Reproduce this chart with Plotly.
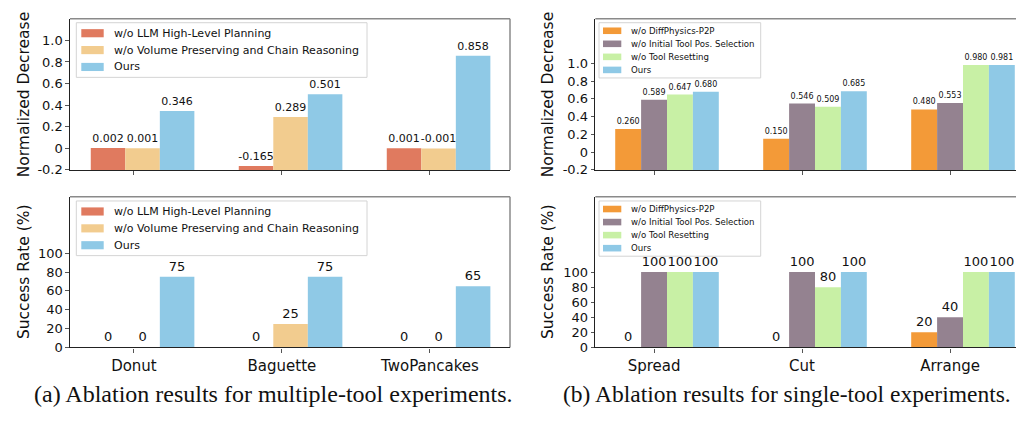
import plotly.graph_objects as go

# ---------------- data ----------------
multi_tasks = ["Donut", "Baguette", "TwoPancakes"]
multi_series = ["w/o LLM High-Level Planning",
                "w/o Volume Preserving and Chain Reasoning",
                "Ours"]
multi_colors = ["#E07A5F", "#F2CC8F", "#8FC9E6"]
multi_decrease_llm = [0.002, -0.165, 0.001]
multi_decrease_volume = [0.001, 0.289, -0.001]
multi_decrease_ours = [0.346, 0.501, 0.858]
multi_success_llm = [0, 0, 0]
multi_success_volume = [0, 25, 0]
multi_success_ours = [75, 75, 65]

single_tasks = ["Spread", "Cut", "Arrange"]
single_series = ["w/o DiffPhysics-P2P",
                 "w/o Initial Tool Pos. Selection",
                 "w/o Tool Resetting",
                 "Ours"]
single_colors = ["#F39A38", "#948290", "#C8F0A5", "#8FC9E6"]
single_decrease_p2p = [0.260, 0.150, 0.480]
single_decrease_init = [0.589, 0.546, 0.553]
single_decrease_reset = [0.647, 0.509, 0.980]
single_decrease_ours = [0.680, 0.685, 0.981]
single_success_p2p = [0, 0, 20]
single_success_init = [100, 100, 40]
single_success_reset = [100, 80, 100]
single_success_ours = [100, 100, 100]

decrease_ticks = [-0.2, 0, 0.2, 0.4, 0.6, 0.8, 1.0]
success_ticks = [0, 20, 40, 60, 80, 100]

caption_a = "(a) Ablation results for multiple-tool experiments."
caption_b = "(b) Ablation results for single-tool experiments."

# ---------------- layout constants ----------------
W, H = 1024, 423
FONT = "DejaVu Sans"
FLOOR = -0.2     # bars in the decrease plots start at the axis floor


def px(x):
    return x / W


def py(y):
    return 1 - y / H


def dec_label(v):
    if v == 0:
        return "0"
    return f"{v:.1f}"


fig = go.Figure()

LEFT_X = (62, 502)
RIGHT_X = (587.3, 1023)
TOP_Y = (11, 165)
BOT_Y = (192.3, 346)

panels = [
    dict(ax="", xpx=LEFT_X, ypx=TOP_Y, tasks=multi_tasks,
         vals=[multi_decrease_llm, multi_decrease_volume, multi_decrease_ours],
         colors=multi_colors, names=multi_series, dec=True, tsize=11,
         yrange=[-0.2, 1.2], xrange=[-0.432, 2.541], show_x=False),
    dict(ax="2", xpx=LEFT_X, ypx=BOT_Y, tasks=multi_tasks,
         vals=[multi_success_llm, multi_success_volume, multi_success_ours],
         colors=multi_colors, names=multi_series, dec=False, tsize=13,
         yrange=[0, 160], xrange=[-0.432, 2.541], show_x=True),
    dict(ax="3", xpx=RIGHT_X, ypx=TOP_Y, tasks=single_tasks,
         vals=[single_decrease_p2p, single_decrease_init, single_decrease_reset, single_decrease_ours],
         colors=single_colors, names=single_series, dec=True, tsize=8,
         yrange=[-0.2, 1.5], xrange=[-0.397, 2.547], show_x=False),
    dict(ax="4", xpx=RIGHT_X, ypx=BOT_Y, tasks=single_tasks,
         vals=[single_success_p2p, single_success_init, single_success_reset, single_success_ours],
         colors=single_colors, names=single_series, dec=False, tsize=13,
         yrange=[0, 200], xrange=[-0.397, 2.547], show_x=True),
]

layout_axes = {}
shapes = []
annotations = []

for p in panels:
    n = len(p["vals"])
    width = 0.7 / n
    start = -1.25 * width if n == 3 else -1.5 * width
    xs = list(range(len(p["tasks"])))
    xa = "x" + p["ax"]
    ya = "y" + p["ax"]
    for i, (vals, col, name) in enumerate(zip(p["vals"], p["colors"], p["names"])):
        if p["dec"]:
            ys = [v - FLOOR for v in vals]
            base = FLOOR
            txt = [f"{v:.3f}" for v in vals]
        else:
            ys = vals
            base = None
            txt = [f"{v:g}" for v in vals]
        fig.add_trace(go.Bar(
            x=xs, y=ys, base=base, width=width, offset=start + i * width,
            marker=dict(color=col, line=dict(width=0)),
            text=txt, textposition="outside", constraintext="none",
            textfont=dict(family=FONT, size=p["tsize"], color="#111"),
            cliponaxis=False, name=name, showlegend=False,
            xaxis=xa, yaxis=ya,
        ))

    if p["dec"]:
        ticks = decrease_ticks
        ticktext = [dec_label(t) for t in ticks]
    else:
        ticks = success_ticks
        ticktext = [str(t) for t in ticks]

    layout_axes["xaxis" + p["ax"]] = dict(
        domain=[px(p["xpx"][0]), px(p["xpx"][1])],
        range=p["xrange"], anchor=ya,
        tickvals=xs, ticktext=p["tasks"], showticklabels=p["show_x"],
        ticks="outside", ticklen=4, tickcolor="#555", tickwidth=1,
        showline=True, linecolor="#222", linewidth=1.3,
        showgrid=False, zeroline=False,
        tickfont=dict(family=FONT, size=15, color="#111"),
    )
    layout_axes["yaxis" + p["ax"]] = dict(
        domain=[py(p["ypx"][1]), py(p["ypx"][0])],
        range=p["yrange"], anchor=xa,
        tickvals=ticks, ticktext=ticktext,
        ticks="outside", ticklen=3.5, tickcolor="#555", tickwidth=1,
        showline=True, linecolor="#222", linewidth=1.3,
        showgrid=False, zeroline=False,
        tickfont=dict(family=FONT, size=13, color="#111"),
    )

    for (x0, y0, x1, y1) in [(0, 1, 1, 1), (1, 0, 1, 1)]:
        shapes.append(dict(type="line", xref=xa + " domain", yref=ya + " domain",
                           x0=x0, y0=y0, x1=x1, y1=y1, layer="below",
                           line=dict(color="#8a8a8a", width=1.5)))

    title = "Normalized Decrease" if p["dec"] else "Success Rate (%)"
    tx = 16 if p["xpx"][0] < 300 else 540
    annotations.append(dict(text=title, textangle=-90, xref="paper", yref="paper",
                            x=px(tx), y=py((p["ypx"][0] + p["ypx"][1]) / 2),
                            xanchor="center", yanchor="middle", showarrow=False,
                            font=dict(family=FONT, size=15.5, color="#111")))

    if n == 3:
        box_x0, box_x1 = 68.3, 359
        box_h, first, gap = 55.7, 10.7, 17.2
        patch_x0, patch_w, patch_h = 73.3, 22.4, 8.3
        text_x, fs = 104.3, 11
    else:
        box_x0, box_x1 = 591, 752.7
        box_h, first, gap = 56.3, 8.2, 13.3
        patch_x0, patch_w, patch_h = 595, 18.3, 6.7
        text_x, fs = 620.7, 8.6
    box_y0 = 15 if p["dec"] else 196.7
    shapes.append(dict(type="rect", xref="paper", yref="paper",
                       x0=px(box_x0), x1=px(box_x1), y0=py(box_y0), y1=py(box_y0 + box_h),
                       fillcolor="rgba(255,255,255,0.85)", layer="above",
                       line=dict(color="#d4d4d4", width=1)))
    for i, (col, name) in enumerate(zip(p["colors"], p["names"])):
        cy = box_y0 + first + i * gap
        shapes.append(dict(type="rect", xref="paper", yref="paper",
                           x0=px(patch_x0), x1=px(patch_x0 + patch_w),
                           y0=py(cy - patch_h / 2), y1=py(cy + patch_h / 2),
                           fillcolor=col, layer="above", line=dict(width=0)))
        annotations.append(dict(text=name, xref="paper", yref="paper",
                                x=px(text_x), y=py(cy), xanchor="left", yanchor="middle",
                                showarrow=False,
                                font=dict(family=FONT, size=fs, color="#111")))

for cap, cx, cs in [(caption_a, 265, 24), (caption_b, 779, 23.5)]:
    annotations.append(dict(text=cap, xref="paper", yref="paper",
                            x=px(cx), y=py(393), xanchor="center", yanchor="middle",
                            showarrow=False,
                            font=dict(family="Liberation Serif", size=cs, color="#111")))

fig.update_layout(
    width=W, height=H, autosize=False,
    margin=dict(l=0, r=0, t=0, b=0),
    paper_bgcolor="white", plot_bgcolor="white",
    barmode="overlay", showlegend=False,
    shapes=shapes, annotations=annotations,
    **layout_axes,
)

fig.write_html("out.html")
